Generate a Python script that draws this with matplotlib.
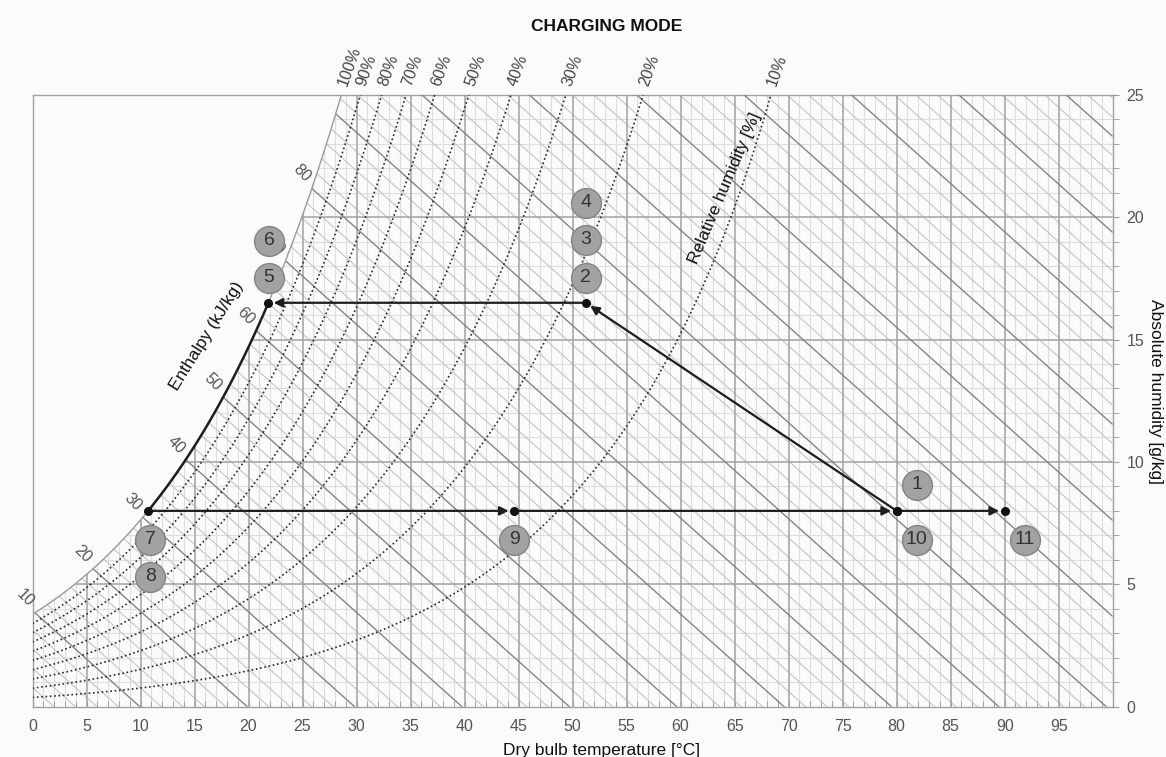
import numpy as np
import matplotlib
matplotlib.use("Agg")
import matplotlib.pyplot as plt
from matplotlib.patches import Polygon
from matplotlib.collections import LineCollection
from matplotlib import transforms

plt.rcParams['font.family'] = ['Liberation Sans', 'DejaVu Sans']

# ---------------- data ----------------
rh_levels = [10, 20, 30, 40, 50, 60, 70, 80, 90, 100]
rh_labels = ['10%', '20%', '30%', '40%', '50%', '60%', '70%', '80%', '90%', '100%']
enthalpy_major = list(range(10, 170, 10))
enthalpy_minor = list(range(2, 168, 2))
enthalpy_labels = [10, 20, 30, 40, 50, 60, 70, 80]

state_T = [80.0, 51.2, 21.8, 10.7, 44.6, 80.0, 90.0]
state_W = [8.0, 16.5, 16.5, 8.0, 8.0, 8.0, 8.0]
process_steps = [(0, 1, 'arrow'), (1, 2, 'arrow'), (2, 3, 'saturation'),
                 (3, 4, 'arrow'), (4, 5, 'arrow'), (5, 6, 'arrow')]

point_labels = ['1', '2', '3', '4', '5', '6', '7', '8', '9', '10', '11']
point_label_state = [0, 1, 1, 1, 2, 2, 3, 3, 4, 5, 6]
point_label_offset_px = [(20, 26), (0, 25), (0, 63), (0, 100), (1, 25), (1, 62),
                         (2, -29), (2, -66), (0, -29), (20, -29), (20, -29)]

x_ticks = list(range(0, 100, 5))
y_ticks = [0, 5, 10, 15, 20, 25]
T_MAX, W_MAX = 100, 25
P_ATM = 101.325

# ---------------- psychrometrics ----------------
def psat(t):
    T = np.asarray(t) + 273.15
    ln = (-5.8002206e3 / T + 1.3914993 - 4.8640239e-2 * T + 4.1764768e-5 * T**2
          - 1.4452093e-8 * T**3 + 6.5459673 * np.log(T))
    return np.exp(ln) / 1000.0

def wsat(t):
    p = psat(t)
    return 621.945 * p / (P_ATM - p)

t_fine = np.linspace(0, 99.0, 4001)
w_fine = wsat(t_fine)

def tsat(w):
    return np.interp(w, w_fine, t_fine)

def h_line_W(h, t):
    return (h - 1.006 * np.asarray(t)) / 2.55

# ---------------- figure ----------------
fig = plt.figure(figsize=(11.66, 7.57), dpi=100, facecolor='#fbfbfb')
ax = fig.add_axes([32.5 / 1166, 1 - 706.7 / 757, (1112.7 - 32.5) / 1166, (706.7 - 94.7) / 757])
ax.set_facecolor('#fbfbfb')
ax.set_xlim(0, T_MAX)
ax.set_ylim(0, W_MAX)

t_top = tsat(W_MAX)
mask = t_fine <= t_top
verts = [(0, 0)] + list(zip(t_fine[mask], w_fine[mask])) + [(t_top, W_MAX), (T_MAX, W_MAX), (T_MAX, 0)]
clip = Polygon(verts, closed=True, transform=ax.transData, facecolor='none', edgecolor='none')
ax.add_patch(clip)

# grid
minor_segs, major_segs = [], []
for t in range(1, T_MAX):
    (major_segs if t % 5 == 0 else minor_segs).append([(t, 0), (t, W_MAX)])
for w in range(1, W_MAX):
    (major_segs if w % 5 == 0 else minor_segs).append([(0, w), (T_MAX, w)])
lc = LineCollection(minor_segs, colors='#dedede', linewidths=0.8, zorder=1)
ax.add_collection(lc); lc.set_clip_path(clip)

# enthalpy lines
tt = np.array([0, T_MAX])
en_minor = [list(zip(tt, h_line_W(h, tt))) for h in enthalpy_minor if h % 10 != 0]
en_major = [list(zip(tt, h_line_W(h, tt))) for h in enthalpy_major]
lc = LineCollection(en_minor, colors='#c2c2c2', linewidths=0.75, zorder=2)
ax.add_collection(lc); lc.set_clip_path(clip)
lc = LineCollection(major_segs, colors='#a2a2a2', linewidths=1.1, zorder=2.5)
ax.add_collection(lc); lc.set_clip_path(clip)
lc = LineCollection(en_major, colors='#858585', linewidths=1.0, zorder=3)
ax.add_collection(lc); lc.set_clip_path(clip)

# saturation + RH curves
for rh, lab in zip(rh_levels, rh_labels):
    w = rh / 100 * w_fine
    t_hit = np.interp(W_MAX, w, t_fine)
    tc = np.append(t_fine[t_fine < t_hit], t_hit)
    wc = np.append(w[t_fine < t_hit], W_MAX)
    if rh == 100:
        ax.plot(tc, wc, color='#9a9a9a', lw=1.0, zorder=4)
    else:
        ax.plot(tc, wc, color='#2a2a2a', lw=1.2, ls=(0, (1, 1.6)), zorder=4)
    ax.annotate(lab, xy=(t_hit, W_MAX), xytext=(1, 9), textcoords='offset pixels',
                rotation=70, rotation_mode='anchor', ha='left', va='center',
                fontsize=11.5, color='#444444', annotation_clip=False)

# enthalpy labels at saturation
for h in enthalpy_labels:
    f = 1.006 * t_fine + 2.55 * w_fine - h
    ti = np.interp(0, f, t_fine)
    wi = wsat(ti)
    ax.annotate(str(h), xy=(ti, wi), xytext=(-10, 15), textcoords='offset pixels',
                rotation=-45, rotation_mode='anchor', ha='center', va='center',
                fontsize=11.5, color='#555555', zorder=5, annotation_clip=False)

# process
pc = '#1e1e1e'
for a, b, kind in process_steps:
    if kind == 'arrow':
        ax.annotate('', xy=(state_T[b], state_W[b]), xytext=(state_T[a], state_W[a]),
                    arrowprops=dict(arrowstyle='-|>', color=pc, lw=1.6, mutation_scale=13,
                                    shrinkA=0, shrinkB=4), zorder=6)
    else:
        ws = np.linspace(state_W[a], state_W[b], 100)
        ax.plot(tsat(ws), ws, color=pc, lw=1.8, zorder=6)
ax.plot(state_T, state_W, 'o', color='#111111', ms=5.5, zorder=7, ls='none')

# numbered circles
for lab, si, (dx, dy) in zip(point_labels, point_label_state, point_label_offset_px):
    tr = transforms.offset_copy(ax.transData, fig=fig, x=dx, y=dy, units='dots')
    ax.plot(state_T[si], state_W[si], 'o', ms=21.5, mfc='#a2a2a2', mec='#838383', mew=1.0,
            transform=tr, zorder=8, clip_on=False)
    ax.text(state_T[si], state_W[si], lab, transform=tr, ha='center', va='center',
            fontsize=14, color='#333333', zorder=9)

# axes styling
for s in ax.spines.values():
    s.set_color('#a0a0a0'); s.set_linewidth(1.0)
ax.set_xticks(x_ticks)
ax.set_xticks(range(0, T_MAX), minor=True)
ax.set_yticks(y_ticks)
ax.set_yticks(range(0, W_MAX + 1), minor=True)
ax.yaxis.tick_right()
ax.tick_params(axis='x', which='both', direction='in', length=4, color='#999999', top=False,
               labelsize=11.5, labelcolor='#555555', pad=9)
ax.tick_params(axis='y', which='both', direction='out', length=4, color='#999999', left=False,
               labelsize=11.5, labelcolor='#555555', pad=6)

fig.text(607 / 1166, 1 - 26.5 / 757, 'CHARGING MODE', ha='center', va='center',
         fontsize=12.5, fontweight='bold', color='#111111')
fig.text(601.5 / 1166, 2 / 757, 'Dry bulb temperature [°C]', ha='center', va='baseline',
         fontsize=12.5, color='#111111')
fig.text(1155 / 1166, 1 - 391.5 / 757, 'Absolute humidity [g/kg]', ha='center', va='center',
         rotation=-90, fontsize=12.5, color='#111111')
ax.text(16.13, 15.15, 'Enthalpy (kJ/kg)', rotation=58, ha='center', va='center',
        fontsize=12.5, color='#111111', zorder=5)
ax.text(64.1, 21.18, 'Relative humidity [%]', rotation=67, ha='center', va='center',
        fontsize=12.5, color='#111111', zorder=5)

fig.savefig('out.png', dpi=100, facecolor=fig.get_facecolor())
